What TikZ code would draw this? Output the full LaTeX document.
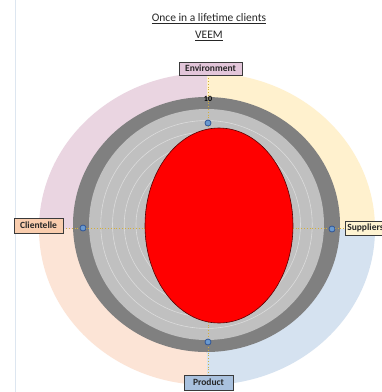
\documentclass[tikz,border=0pt]{standalone}
\usepackage{fontspec}
\setmainfont{Carlito}
\usetikzlibrary{shapes.geometric}

\definecolor{qpink}{HTML}{EAD5E1}
\definecolor{qyellow}{HTML}{FFF1CE}
\definecolor{qpeach}{HTML}{FCE4D6}
\definecolor{qblue}{HTML}{D5E2F0}
\definecolor{ringdark}{HTML}{808080}
\definecolor{ringlight}{HTML}{C0C0C0}
\definecolor{gridcol}{HTML}{DCDCDC}
\definecolor{axiscol}{HTML}{D2AE3C}
\definecolor{envfill}{HTML}{E3C6DA}
\definecolor{clifill}{HTML}{F9CDAE}
\definecolor{supfill}{HTML}{FFF4D2}
\definecolor{prodfill}{HTML}{A9C1DE}
\definecolor{boxline}{HTML}{3A3A3A}
\definecolor{markfill}{HTML}{6A9AD0}
\definecolor{markline}{HTML}{2F5597}
\definecolor{edgeline}{HTML}{DDE6F0}

\pgfdeclarelayer{bg}
\pgfdeclarelayer{axes}
\pgfsetlayers{bg,axes,main}

\begin{document}
\begin{tikzpicture}[x=1pt,y=-1pt,
  titletext/.style={inner sep=0pt, font=\fontsize{11.5}{13}\selectfont, text=black!85},
  catbox/.style={draw=boxline, line width=0.6pt, inner sep=1pt,
    font=\fontsize{9.5}{10}\selectfont\bfseries, text=black!85},
  axis/.style={axiscol, dotted, line width=0.8pt},
  marker/.style={circle, minimum size=6pt, inner sep=0pt, fill=markfill,
    draw=markline, line width=0.8pt},
  radar/.style={ellipse, inner sep=0pt, fill=red, draw=red!35!black, line width=0.6pt},
  gridring/.style={gridcol, line width=0.6pt}]
\useasboundingbox (0,0) rectangle (382,392);

% headings
\node[titletext] (title) at (209,19) {\underline{Once in a lifetime clients}};
\node[titletext] (veem) at (209,36) {\underline{VEEM}};

% plotted area and value markers
\node[radar, minimum width=148pt, minimum height=195pt] (area) at (219,225.5) {};
\node[marker] (mtop) at (208,123) {};
\node[marker] (mleft) at (83,228) {};
\node[marker] (mright) at (332,229) {};
\node[marker] (mbot) at (208,342) {};
\node[inner sep=0pt, font=\fontsize{8}{8}\selectfont\bfseries] (ten) at (208,99) {10};

% category labels
\node[catbox, fill=envfill, minimum width=63pt, minimum height=13pt] (env) at (210.5,68.5) {Environment};
\node[catbox, fill=clifill, minimum width=49pt, minimum height=15pt] (client) at (38.5,225.5) {Clientelle};
\node[catbox, fill=supfill, inner xsep=2pt, minimum height=14pt, anchor=west] (supp) at (345,228) {Suppliers};
\node[catbox, fill=prodfill, minimum width=49pt, minimum height=15pt] (prod) at (208.5,382.5) {Product};

% dotted axes
\begin{pgfonlayer}{axes}
  \draw[axis] (env.south -| mtop) -- (prod.north -| mtop);
  \draw[axis] (client.east |- mleft) -- (supp.west |- mleft);
\end{pgfonlayer}

% coloured quadrants, rings and grid
\begin{pgfonlayer}{bg}
  \fill[white] (0,0) rectangle (382,392);
  \draw[edgeline, line width=0.8pt] (15,0) -- (15,392);
  \begin{scope}
    \clip (0,0) rectangle (207,229);
    \fill[qpink] (207,229) ellipse[x radius=168pt, y radius=156pt];
  \end{scope}
  \begin{scope}
    \clip (207,0) rectangle (382,229);
    \fill[qyellow] (207,229) ellipse[x radius=168pt, y radius=156pt];
  \end{scope}
  \begin{scope}
    \clip (0,229) rectangle (207,392);
    \fill[qpeach] (207,229) ellipse[x radius=168pt, y radius=156pt];
  \end{scope}
  \begin{scope}
    \clip (207,229) rectangle (382,392);
    \fill[qblue] (207,229) ellipse[x radius=168pt, y radius=156pt];
  \end{scope}
  \fill[ringdark] (206.5,224.5) ellipse[x radius=133.5pt, y radius=127.5pt];
  \fill[ringlight] (206.5,224.5) ellipse[x radius=117.5pt, y radius=115.5pt];
  \foreach \s in {0.9,0.8,0.7,0.6,0.5}
    \draw[gridring] (206.5,224.5) ellipse[x radius=\s*117.5pt, y radius=\s*115.5pt];
\end{pgfonlayer}
\end{tikzpicture}
\end{document}
